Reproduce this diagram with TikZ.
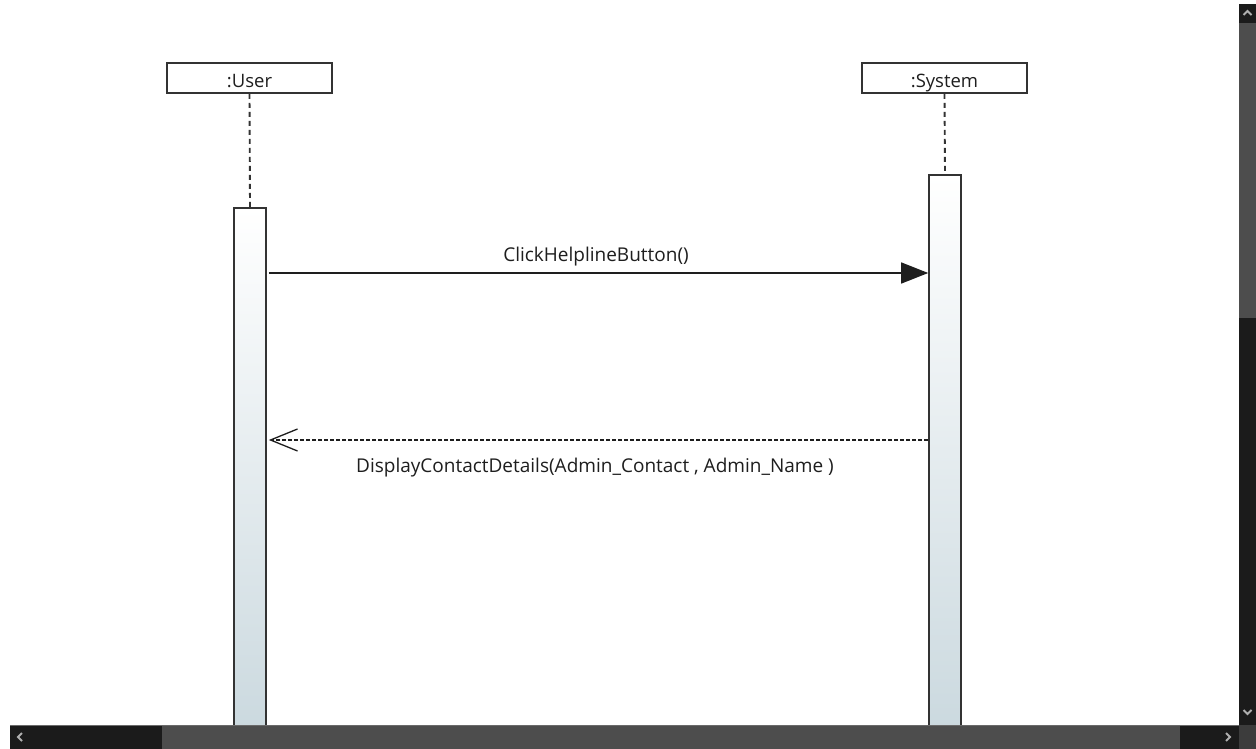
\documentclass[tikz,border=0pt]{standalone}
\usepackage{fontspec}
\setmainfont{Open Sans}
\usetikzlibrary{arrows.meta}
\definecolor{ink}{HTML}{1E1E1E}
\definecolor{edge}{HTML}{333333}
\definecolor{barlow}{HTML}{CBD9DF}
\definecolor{sbdark}{HTML}{1B1B1B}
\definecolor{sbthumb}{HTML}{4D4D4D}
\definecolor{sbcorner}{HTML}{3C3C3C}
\definecolor{sbglyph}{HTML}{B0B0B0}
\tikzset{
  head/.style={draw=edge, line width=1.6pt, fill=white, minimum width=165pt,
    minimum height=30pt, inner sep=0pt, text height=19pt, text depth=0pt,
    font=\fontsize{18.5}{20}\selectfont, text=ink},
  actbar/.style={draw=edge, line width=1.6pt, top color=white, bottom color=barlow,
    minimum width=32pt, inner sep=0pt, anchor=north},
  lifeline/.style={draw=edge, line width=1.9pt, dash pattern=on 5pt off 4pt},
  callmsg/.style={draw=ink, line width=1.4pt, -{Triangle[length=27pt,width=21pt]}},
  replymsg/.style={draw=ink, line width=1.3pt, dash pattern=on 4pt off 2pt,
    -{Straight Barb[length=27pt,width=22pt,line width=1.3pt]}},
  msglabel/.style={font=\fontsize{19}{22}\selectfont, text=ink, inner sep=0pt},
  chev/.style={draw=sbglyph, line width=2pt}
}
\begin{document}
\begin{tikzpicture}[x=1pt, y=-1pt]
  \useasboundingbox (0,0) rectangle (1256,749);
  \fill[white] (0,0) rectangle (1256,749);

  % lifeline heads
  \node[head] (user) at (249.5,78) {:User};
  \node[head] (sys)  at (944.5,78) {:System};

  % activation bars
  \node[actbar, minimum height=522pt] (ua) at (250,207) {};
  \node[actbar, minimum height=555pt] (sa) at (945,174) {};

  % lifelines
  \draw[lifeline] (user.south) -- (ua.north);
  \draw[lifeline] (sys.south) -- (sa.north);

  % messages
  \coordinate (m1) at (0,273);
  \coordinate (m2) at (0,440);
  \draw[callmsg] ([xshift=2pt]ua.east |- m1) -- (sa.west |- m1);
  \node[msglabel, anchor=base] (l1) at (596,261) {ClickHelplineButton()};
  \draw[replymsg] (sa.west |- m2) -- ([xshift=2pt]ua.east |- m2);
  \node[msglabel, anchor=base] (l2) at (595,472) {DisplayContactDetails(Admin\_Contact , Admin\_Name )};

  % window scrollbars
  \fill[sbdark] (1239,4) rectangle (1256,725);
  \fill[sbthumb] (1239,23) rectangle (1256,318);
  \fill[sbdark] (10,725) rectangle (1239,749);
  \fill[sbthumb] (162,725) rectangle (1180,749);
  \fill[sbcorner] (1239,725) rectangle (1256,749);
  \draw[sbglyph!60!black, line width=0.8pt] (10,725.4) -- (1239,725.4);
  \draw[chev] (1243.5,15) -- (1247.5,11) -- (1251.5,15);
  \draw[chev] (1243.5,710) -- (1247.5,714) -- (1251.5,710);
  \draw[chev] (22,733) -- (18,737) -- (22,741);
  \draw[chev] (1226,733) -- (1230,737) -- (1226,741);
\end{tikzpicture}
\end{document}
